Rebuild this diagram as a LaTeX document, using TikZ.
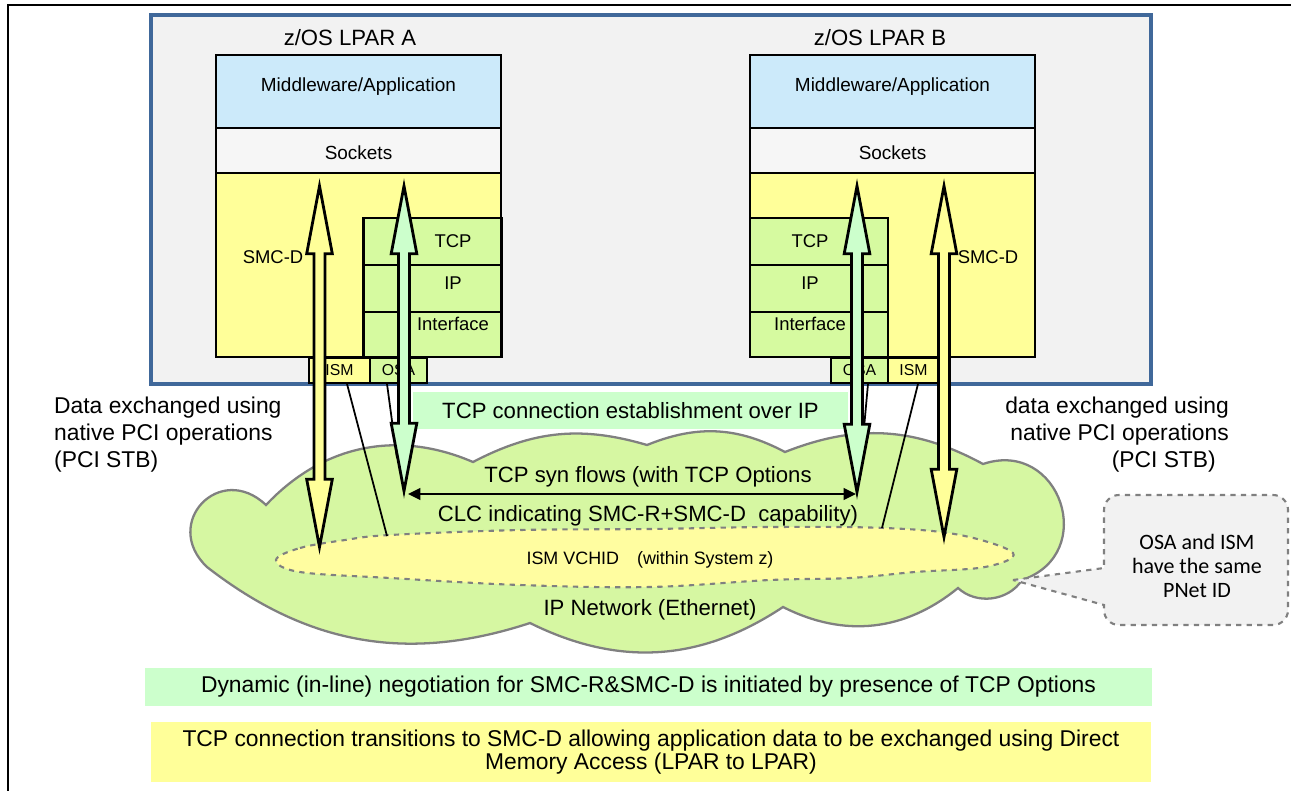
\documentclass[tikz,border=0pt]{standalone}
\usepackage{fontspec}
\setmainfont{Liberation Sans}
\newfontfamily\calloutfont{Carlito}
\usetikzlibrary{arrows.meta,calc}

\definecolor{lparblue}{RGB}{64,104,154}
\definecolor{lpargray}{RGB}{242,242,242}
\definecolor{mwblue}{RGB}{204,234,250}
\definecolor{sockgray}{RGB}{246,246,246}
\definecolor{smcyellow}{RGB}{255,255,153}
\definecolor{stackgreen}{RGB}{214,250,160}
\definecolor{flowgreen}{RGB}{204,255,204}
\definecolor{cloudgreen}{RGB}{214,247,162}
\definecolor{cloudgray}{RGB}{128,128,128}
\definecolor{vchidyellow}{RGB}{255,253,160}
\definecolor{notegray}{RGB}{242,242,242}

% fat outlined double arrow between two named coordinates (top, bottom)
\newcommand{\fatarrow}[3]{%
  \draw[fatbody, fill=#3] let \p1=(#1), \p2=(#2) in
    (\x1,\y1) -- (\x1+7.3pt,\y1-38.6pt) -- (\x1+3.1pt,\y1-38.6pt)
    -- (\x2+3.1pt,\y2+38.6pt) -- (\x2+7.3pt,\y2+38.6pt) -- (\x2,\y2)
    -- (\x2-7.3pt,\y2+38.6pt) -- (\x2-3.1pt,\y2+38.6pt)
    -- (\x1-3.1pt,\y1-38.6pt) -- (\x1-7.3pt,\y1-38.6pt) -- cycle;}

\begin{document}
\begin{tikzpicture}[x=0.02cm,y=-0.02cm,
	lpar/.style={ draw=lparblue, line width=2.3pt, fill=lpargray },
	lyrbox/.style={ draw, line width=1.6pt, minimum width=5.7cm, inner sep=0pt, font=\fontsize{10.8}{12}\selectfont },
	protobox/.style={ draw, line width=1.6pt, fill=stackgreen, minimum width=2.76cm, inner sep=0pt },
	portbox/.style={ draw, line width=1pt, minimum height=0.5cm, inner sep=0pt, font=\fontsize{9}{10}\selectfont },
	rowtxt/.style={ font=\fontsize{10.5}{12}\selectfont },
	bigtxt/.style={ font=\fontsize{12.6}{15.5}\selectfont },
	sidetxt/.style={ font=\fontsize{13}{15.6}\selectfont },
	fatbody/.style={ draw, line width=1.6pt, line join=miter },
	tieline/.style={ line width=1pt },
	ipcloud/.style={ draw=cloudgray, line width=1.3pt, fill=cloudgreen },
	vchidcloud/.style={ draw=cloudgray, line width=1.2pt, dashed, fill=vchidyellow },
	bandbox/.style={ inner sep=0pt, align=center, font=\fontsize{13}{13.2}\selectfont },
	notebox/.style={ draw=cloudgray, line width=1.2pt, dashed, fill=notegray }
]
\useasboundingbox (0,0) rectangle (1291,791);
\draw[line width=1.1pt] (1291,5) -- (8,5) -- (8,791);

% the two LPARs
\draw[lpar] (151,15) rectangle (1151,384);
\node at (350,38) (lparA) [bigtxt] {z/OS LPAR A};
\node at (880,38) (lparB) [bigtxt] {z/OS LPAR B};

\node at (358.5,91.5) (mwA) [lyrbox, fill=mwblue, minimum height=1.46cm, text height=0.3cm, text depth=0.3cm] {Middleware/Application};
\node at (358.5,150.5) (sockA) [lyrbox, fill=sockgray, minimum height=0.9cm, text height=0.5cm, text depth=0.14cm] {Sockets};
\node at (358.5,265) (smcA) [lyrbox, fill=smcyellow, minimum height=3.68cm, label={[rowtxt,xshift=-1.71cm,yshift=0.16cm]center:SMC-D}] {};
\node at (432.5,241.5) (tcpA) [protobox, minimum height=0.94cm, label={[rowtxt,xshift=0.41cm]center:TCP}] {};
\node at (432.5,288.5) (ipA) [protobox, minimum height=0.94cm, label={[rowtxt,xshift=0.41cm,yshift=0.11cm]center:IP}] {};
\node at (432.5,334.5) (ifA) [protobox, minimum height=0.9cm, label={[rowtxt,xshift=0.41cm,yshift=0.21cm]center:Interface}] {};
\node at (339.5,370.5) (ismA) [portbox, fill=smcyellow, minimum width=1.22cm] {ISM};
\node at (398.5,370.5) (osaA) [portbox, fill=stackgreen, minimum width=1.14cm] {OSA};

\node at (892.5,91.5) (mwB) [lyrbox, fill=mwblue, minimum height=1.46cm, text height=0.3cm, text depth=0.3cm] {Middleware/Application};
\node at (892.5,150.5) (sockB) [lyrbox, fill=sockgray, minimum height=0.9cm, text height=0.5cm, text depth=0.14cm] {Sockets};
\node at (892.5,265) (smcB) [lyrbox, fill=smcyellow, minimum height=3.68cm, label={[rowtxt,xshift=1.91cm,yshift=0.16cm]center:SMC-D}] {};
\node at (819,241.5) (tcpB) [protobox, minimum height=0.94cm, label={[rowtxt,xshift=-0.18cm]center:TCP}] {};
\node at (819,288.5) (ipB) [protobox, minimum height=0.94cm, label={[rowtxt,xshift=-0.18cm,yshift=0.11cm]center:IP}] {};
\node at (819,334.5) (ifB) [protobox, minimum height=0.9cm, label={[rowtxt,xshift=-0.18cm,yshift=0.21cm]center:Interface}] {};
\node at (859.5,370.5) (osaB) [portbox, fill=stackgreen, minimum width=1.14cm] {OSA};
\node at (913.5,370.5) (ismB) [portbox, fill=smcyellow, minimum width=1.02cm] {ISM};

% IP network cloud and ISM VCHID inside it
\draw[ipcloud] (207,567) to[bend left=90,looseness=1.9] (266,505) to[bend left=35] (473,462)
	to[bend left=22] (647,445) to[bend left=25] (785,452) to[bend left=25] (983,464)
	to[bend left=90,looseness=1.7] (1022,580) to[bend left=50] (958,588)
	to[bend left=33] (783,607) to[bend left=30] (530,623) to[bend left=28] cycle;
\draw[vchidcloud] plot[smooth cycle, tension=0.6] coordinates {(276,560) (300,548) (345,540) (390,535) (520,530) (650,529) (770,527) (885,528) (960,535) (1013,553) (985,567) (915,572) (850,578) (770,580) (650,587) (520,585) (390,578) (300,572)};

\node at (630.5,410.5) (tcpnote) [bandbox, bigtxt, fill=flowgreen, minimum width=8.7cm, minimum height=0.74cm] {TCP connection establishment over IP};

\coordinate (vchidA) at (387,536);
\coordinate (ipnetA) at (397,458);
\coordinate (vchidB) at (882,528);
\coordinate (ipnetB) at (862,450);
\draw[tieline] ([xshift=0.15cm]ismA.south) -- (vchidA);
\draw[tieline] ([xshift=-0.23cm]osaA.south) -- (ipnetA);
\draw[tieline] ([xshift=0.09cm]ismB.south) -- (vchidB);
\draw[tieline] ([xshift=0.17cm]osaB.south) -- (ipnetB);

% data paths
\coordinate (pciAtop) at (319.5,186);
\coordinate (pciAbot) at (319.5,547);
\coordinate (tcpAtop) at (404,186);
\coordinate (tcpAbot) at (404,491);
\coordinate (tcpBtop) at (857,186);
\coordinate (tcpBbot) at (857,492);
\coordinate (pciBtop) at (944,186);
\coordinate (pciBbot) at (944,537);
\fatarrow{pciAtop}{pciAbot}{smcyellow}
\fatarrow{tcpAtop}{tcpAbot}{flowgreen}
\fatarrow{tcpBtop}{tcpBbot}{flowgreen}
\fatarrow{pciBtop}{pciBbot}{smcyellow}

\coordinate (synA) at (408,494);
\coordinate (synB) at (856,494);
\draw[line width=1.3pt, {Triangle[length=7pt,width=6.5pt]}-{Triangle[length=7pt,width=6.5pt]}] (synA) -- (synB);

\node at (648,477) (synflow) [bigtxt] {TCP syn flows (with TCP Options};
\node at (648,516) (clc) [bigtxt] {CLC indicating SMC-R+SMC-D\ \ capability)};
\node at (650,560) (vchid) [font=\fontsize{10.2}{12}\selectfont] {ISM VCHID\quad(within System z)};
\node at (650,610) (ipnet) [bigtxt] {IP Network (Ethernet)};

\node at (48,434.5) (pciL) [sidetxt, align=left, anchor=west] {Data exchanged using\\native PCI operations\\(PCI STB)};
\node at (1235,434.5) (pciR) [sidetxt, align=right, anchor=east] {data exchanged using\\native PCI operations\\(PCI STB)\hspace*{0.26cm}};

% callout
\draw[notebox] (1013,580) -- (1104,568) [rounded corners=0.3cm] -- (1104,495) -- (1288,495) -- (1288,625) -- (1104,625) [sharp corners] -- (1104,605) -- cycle;
\node at (1197,566) (pnet) [align=center, font=\calloutfont\fontsize{12.5}{13.8}\selectfont] {OSA and ISM\\have the same\\PNet ID};

% bottom notes
\node at (648.5,687) (negot) [bandbox, fill=flowgreen, minimum width=20.14cm, minimum height=0.76cm] {Dynamic (in-line) negotiation for SMC-R\&SMC-D is initiated by presence of TCP Options};
\node at (651,752) (dma) [bandbox, fill=smcyellow, minimum width=20cm, minimum height=1.2cm] {TCP connection transitions to SMC-D allowing application data to be exchanged using Direct\\Memory Access (LPAR to LPAR)};

\end{tikzpicture}
\end{document}
